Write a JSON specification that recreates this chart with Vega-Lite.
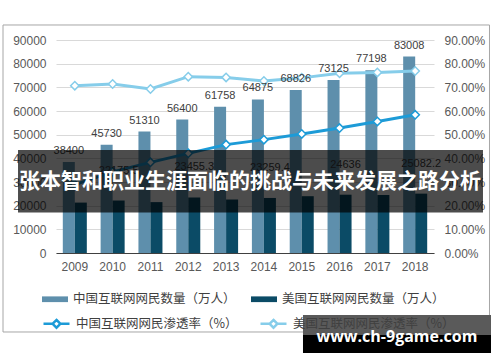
{
  "$schema": "https://vega.github.io/schema/vega-lite/v6.json",
  "width": 378,
  "height": 213,
  "autosize": {"type": "none"},
  "padding": {"left": 56, "top": 40, "right": 66, "bottom": 109},
  "background": "white",
  "config": {"view": {"stroke": null}, "font": "Liberation Sans"},
  "datasets": {
    "users": [
      {"year": "2009", "series": "中国互联网网民数量（万人）", "users": 38400, "label": "38400"},
      {"year": "2009", "series": "美国互联网网民数量（万人）", "users": 21300, "label": ""},
      {"year": "2010", "series": "中国互联网网民数量（万人）", "users": 45730, "label": "45730"},
      {"year": "2010", "series": "美国互联网网民数量（万人）", "users": 22175.5, "label": "22175.5"},
      {"year": "2011", "series": "中国互联网网民数量（万人）", "users": 51310, "label": "51310"},
      {"year": "2011", "series": "美国互联网网民数量（万人）", "users": 21500, "label": ""},
      {"year": "2012", "series": "中国互联网网民数量（万人）", "users": 56400, "label": "56400"},
      {"year": "2012", "series": "美国互联网网民数量（万人）", "users": 23455.3, "label": "23455.3"},
      {"year": "2013", "series": "中国互联网网民数量（万人）", "users": 61758, "label": "61758"},
      {"year": "2013", "series": "美国互联网网民数量（万人）", "users": 22600, "label": ""},
      {"year": "2014", "series": "中国互联网网民数量（万人）", "users": 64875, "label": "64875"},
      {"year": "2014", "series": "美国互联网网民数量（万人）", "users": 23259.4, "label": "23259.4"},
      {"year": "2015", "series": "中国互联网网民数量（万人）", "users": 68826, "label": "68826"},
      {"year": "2015", "series": "美国互联网网民数量（万人）", "users": 24000, "label": ""},
      {"year": "2016", "series": "中国互联网网民数量（万人）", "users": 73125, "label": "73125"},
      {"year": "2016", "series": "美国互联网网民数量（万人）", "users": 24636, "label": "24636"},
      {"year": "2017", "series": "中国互联网网民数量（万人）", "users": 77198, "label": "77198"},
      {"year": "2017", "series": "美国互联网网民数量（万人）", "users": 24500, "label": ""},
      {"year": "2018", "series": "中国互联网网民数量（万人）", "users": 83008, "label": "83008"},
      {"year": "2018", "series": "美国互联网网民数量（万人）", "users": 25082.2, "label": "25082.2"}
    ],
    "rates": [
      {"year": "2009", "series": "中国互联网网民渗透率（%）", "rate": 0.289},
      {"year": "2010", "series": "中国互联网网民渗透率（%）", "rate": 0.343},
      {"year": "2011", "series": "中国互联网网民渗透率（%）", "rate": 0.383},
      {"year": "2012", "series": "中国互联网网民渗透率（%）", "rate": 0.421},
      {"year": "2013", "series": "中国互联网网民渗透率（%）", "rate": 0.458},
      {"year": "2014", "series": "中国互联网网民渗透率（%）", "rate": 0.479},
      {"year": "2015", "series": "中国互联网网民渗透率（%）", "rate": 0.503},
      {"year": "2016", "series": "中国互联网网民渗透率（%）", "rate": 0.528},
      {"year": "2017", "series": "中国互联网网民渗透率（%）", "rate": 0.556},
      {"year": "2018", "series": "中国互联网网民渗透率（%）", "rate": 0.584},
      {"year": "2009", "series": "美国互联网网民渗透率（%）", "rate": 0.707},
      {"year": "2010", "series": "美国互联网网民渗透率（%）", "rate": 0.714},
      {"year": "2011", "series": "美国互联网网民渗透率（%）", "rate": 0.693},
      {"year": "2012", "series": "美国互联网网民渗透率（%）", "rate": 0.745},
      {"year": "2013", "series": "美国互联网网民渗透率（%）", "rate": 0.742},
      {"year": "2014", "series": "美国互联网网民渗透率（%）", "rate": 0.727},
      {"year": "2015", "series": "美国互联网网民渗透率（%）", "rate": 0.740},
      {"year": "2016", "series": "美国互联网网民渗透率（%）", "rate": 0.759},
      {"year": "2017", "series": "美国互联网网民渗透率（%）", "rate": 0.763},
      {"year": "2018", "series": "美国互联网网民渗透率（%）", "rate": 0.769}
    ],
    "one": [{"banner": "张本智和职业生涯面临的挑战与未来发展之路分析", "site": "www.ch-9game.com"}]
  },
  "layer": [
    {
      "data": {"name": "one"},
      "mark": {"type": "rect", "fillOpacity": 0, "stroke": "#a6a6a6", "strokeWidth": 1},
      "encoding": {
        "x": {"datum": -0.1402, "type": "quantitative", "scale": {"domain": [0, 1], "nice": false, "zero": false}, "axis": null},
        "x2": {"datum": 1.1468},
        "y": {"datum": 96340, "type": "quantitative", "scale": {"domain": [0, 90000], "nice": false}, "axis": null},
        "y2": {"datum": -33380}
      }
    },
    {
      "layer": [
        {
          "data": {"name": "users"},
          "mark": {"type": "bar"},
          "encoding": {
            "x": {"field": "year", "type": "nominal", "scale": {"paddingInner": 0.365, "paddingOuter": 0.18},
              "axis": {"title": null, "labelAngle": 0, "ticks": false, "domainColor": "#404040", "labelColor": "#595959", "labelFontSize": 12, "labelPadding": 8}},
            "xOffset": {"field": "series", "type": "nominal", "scale": {"domain": ["中国互联网网民数量（万人）", "美国互联网网民数量（万人）"], "paddingInner": 0, "paddingOuter": 0}},
            "y": {"field": "users", "type": "quantitative", "scale": {"domain": [0, 90000], "nice": false},
              "axis": {"title": null, "values": [0, 10000, 20000, 30000, 40000, 50000, 60000, 70000, 80000, 90000], "format": "d", "grid": true, "gridColor": "#d9d9d9", "domain": false, "ticks": false, "labelPadding": 10, "labelColor": "#595959", "labelFontSize": 12}},
            "fill": {"field": "series", "type": "nominal",
              "scale": {"domain": ["中国互联网网民数量（万人）", "美国互联网网民数量（万人）"], "range": ["#5e8fac", "#0b4b66"]},
              "legend": {"title": null, "orient": "none", "legendX": -14, "legendY": 246, "direction": "horizontal", "columns": 2, "padding": 0,
                "symbolType": "M-1,-0.22H1V0.22H-1Z", "symbolSize": 676, "symbolStrokeWidth": 0, "labelFont": "Noto Sans CJK SC", "labelFontSize": 12.5, "labelColor": "#404040", "labelOffset": 5, "columnPadding": 15, "labelLimit": 300}}
          }
        },
        {
          "data": {"name": "rates"},
          "mark": {"type": "line", "strokeWidth": 3},
          "encoding": {
            "x": {"field": "year", "type": "nominal"},
            "y": {"field": "rate", "type": "quantitative", "scale": {"domain": [0, 0.9], "nice": false},
              "axis": {"orient": "right", "title": null, "values": [0, 0.1, 0.2, 0.3, 0.4, 0.5, 0.6, 0.7, 0.8, 0.9], "format": ".2%", "grid": false, "domain": false, "ticks": false, "labelPadding": 10, "labelColor": "#595959", "labelFontSize": 12}},
            "stroke": {"field": "series", "type": "nominal",
              "scale": {"domain": ["中国互联网网民渗透率（%）", "美国互联网网民渗透率（%）"], "range": ["#1d9bd7", "#86cdea"]},
              "legend": {"title": null, "orient": "none", "legendX": -14, "legendY": 269, "direction": "horizontal", "columns": 2, "padding": 0,
                "symbolType": "M-1,0H-0.3M0.3,0H1M0,-0.3L0.3,0L0,0.3L-0.3,0Z", "symbolSize": 676, "symbolStrokeWidth": 2.5, "symbolFillColor": "white", "labelFont": "Noto Sans CJK SC", "labelFontSize": 12.5, "labelColor": "#404040", "labelOffset": 5, "columnPadding": 17, "labelLimit": 300}}
          }
        },
        {
          "data": {"name": "rates"},
          "mark": {"type": "point", "shape": "diamond", "filled": true, "fill": "white", "size": 70, "strokeWidth": 1.5, "opacity": 1},
          "encoding": {
            "x": {"field": "year", "type": "nominal"},
            "y": {"field": "rate", "type": "quantitative", "scale": {"domain": [0, 0.9], "nice": false}, "axis": null},
            "stroke": {"field": "series", "type": "nominal"}
          }
        },
        {
          "data": {"name": "users"},
          "transform": [{"filter": "datum.series === '中国互联网网民数量（万人）'"}],
          "mark": {"type": "text", "baseline": "middle", "dy": -11, "fontSize": 11, "color": "#404040"},
          "encoding": {
            "x": {"field": "year", "type": "nominal"},
            "xOffset": {"field": "series", "type": "nominal"},
            "y": {"field": "users", "type": "quantitative", "scale": {"domain": [0, 90000], "nice": false}, "axis": null},
            "text": {"field": "label"}
          }
        },
        {
          "data": {"name": "users"},
          "transform": [{"filter": "datum.series === '美国互联网网民数量（万人）'"}],
          "mark": {"type": "text", "baseline": "middle", "dy": -30, "fontSize": 11, "color": "#404040"},
          "encoding": {
            "x": {"field": "year", "type": "nominal"},
            "xOffset": {"field": "series", "type": "nominal"},
            "y": {"field": "users", "type": "quantitative", "scale": {"domain": [0, 90000], "nice": false}, "axis": null},
            "text": {"field": "label"}
          }
        }
      ],
      "resolve": {"scale": {"y": "independent"}}
    },
    {
      "data": {"name": "one"},
      "mark": {"type": "rect", "fill": "#000000", "opacity": 0.7},
      "encoding": {
        "x": {"datum": -0.1005, "type": "quantitative", "scale": {"domain": [0, 1], "nice": false, "zero": false}, "axis": null},
        "x2": {"datum": 1.1296},
        "y": {"datum": 43520, "type": "quantitative", "scale": {"domain": [0, 90000], "nice": false}, "axis": null},
        "y2": {"datum": 17110}
      }
    },
    {
      "data": {"name": "one"},
      "mark": {"type": "text", "font": "Noto Sans CJK SC", "fontWeight": "bold", "fontSize": 21, "color": "white", "align": "center", "baseline": "middle"},
      "encoding": {
        "x": {"datum": 0.513, "type": "quantitative", "scale": {"domain": [0, 1], "nice": false, "zero": false}, "axis": null},
        "y": {"datum": 30000, "type": "quantitative", "scale": {"domain": [0, 90000], "nice": false}, "axis": null},
        "text": {"field": "banner"}
      }
    },
    {
      "data": {"name": "one"},
      "mark": {"type": "rect", "fill": "#5a5a5a"},
      "encoding": {
        "x": {"datum": 0.6534, "type": "quantitative", "scale": {"domain": [0, 1], "nice": false, "zero": false}, "axis": null},
        "x2": {"datum": 1.1508},
        "y": {"datum": -26200, "type": "quantitative", "scale": {"domain": [0, 90000], "nice": false}, "axis": null},
        "y2": {"datum": -34660}
      }
    },
    {
      "data": {"name": "one"},
      "mark": {"type": "rect", "fill": "#000000"},
      "encoding": {
        "x": {"datum": 0.6534, "type": "quantitative", "scale": {"domain": [0, 1], "nice": false, "zero": false}, "axis": null},
        "x2": {"datum": 1.1508},
        "y": {"datum": -34660, "type": "quantitative", "scale": {"domain": [0, 90000], "nice": false}, "axis": null},
        "y2": {"datum": -42250}
      }
    },
    {
      "data": {"name": "one"},
      "mark": {"type": "text", "font": "Open Sans", "fontWeight": "bold", "fontSize": 16, "color": "white", "align": "center", "baseline": "middle"},
      "encoding": {
        "x": {"datum": 0.902, "type": "quantitative", "scale": {"domain": [0, 1], "nice": false, "zero": false}, "axis": null},
        "y": {"datum": -35490, "type": "quantitative", "scale": {"domain": [0, 90000], "nice": false}, "axis": null},
        "text": {"field": "site"}
      }
    }
  ],
  "resolve": {"scale": {"x": "independent", "y": "independent"}}
}
